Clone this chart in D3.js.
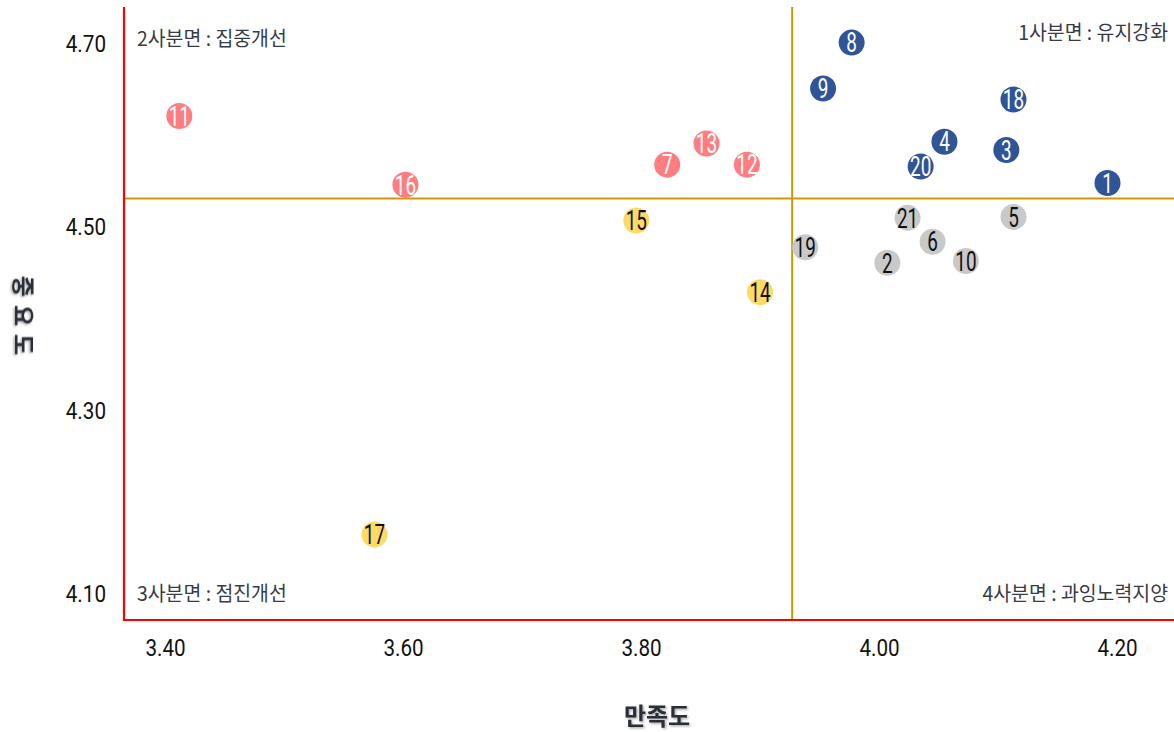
<!DOCTYPE html>
<html>
<head>
<meta charset="utf-8">
<script src="https://cdn.jsdelivr.net/npm/d3@7/dist/d3.min.js"></script>
<style>
  html, body { margin: 0; padding: 0; background: #fff; }
  svg { display: block; }
</style>
</head>
<body>
<div id="chart"></div>
<script>
// ---- data ----
const ids          = [1, 2, 3, 4, 5, 6, 7, 8, 9, 10, 11, 12, 13, 14, 15, 16, 17, 18, 19, 20, 21];
const satisfaction = [4.192, 4.007, 4.107, 4.055, 4.113, 4.045, 3.822, 3.977, 3.953, 4.073, 3.412, 3.889, 3.855, 3.900, 3.796, 3.602, 3.576, 4.113, 3.938, 4.035, 4.024];
const importance   = [4.548, 4.461, 4.584, 4.593, 4.511, 4.484, 4.568, 4.701, 4.651, 4.463, 4.621, 4.568, 4.591, 4.429, 4.507, 4.546, 4.165, 4.639, 4.478, 4.566, 4.510];
const xTicks = [3.40, 3.60, 3.80, 4.00, 4.20];
const yTicks = [4.10, 4.30, 4.50, 4.70];
const meanSatisfaction = 3.927;
const meanImportance = 4.531;
const quadrantNames = ["1사분면 : 유지강화", "2사분면 : 집중개선", "3사분면 : 점진개선", "4사분면 : 과잉노력지양"];
const xTitle = "만족도";
const yTitle = "중요도";

// ---- layout ----
const W = 1174, H = 732;
const plot = { left: 124, right: 1174, top: 7, bottom: 620 };

const x = d3.scaleLinear().domain([3.3655, 4.2479]).range([plot.left, plot.right]);
const y = d3.scaleLinear().domain([4.0717, 4.7398]).range([plot.bottom, plot.top]);

const svg = d3.select("#chart").append("svg").attr("width", W).attr("height", H);

const defs = svg.append("defs");
const f = defs.append("filter").attr("id", "shadow").attr("x", "-20%").attr("y", "-20%").attr("width", "140%").attr("height", "140%");
f.append("feDropShadow").attr("dx", 1.3).attr("dy", 1.3).attr("stdDeviation", 1).attr("flood-color", "#000").attr("flood-opacity", 0.35);

const numFont = "Roboto, 'Liberation Sans', sans-serif";
const krFont = "'Noto Sans CJK KR', 'Noto Sans', sans-serif";

function squeeze(sel, factor) {
  sel.each(function () {
    const len = this.getComputedTextLength();
    d3.select(this).attr("textLength", len * factor).attr("lengthAdjust", "spacingAndGlyphs");
  });
}

// quadrant lines
const gold = "#C99A06";
svg.append("line")
  .attr("x1", x(meanSatisfaction)).attr("x2", x(meanSatisfaction))
  .attr("y1", plot.top).attr("y2", plot.bottom)
  .attr("stroke", gold).attr("stroke-width", 2);
svg.append("line")
  .attr("x1", plot.left).attr("x2", plot.right)
  .attr("y1", y(meanImportance)).attr("y2", y(meanImportance))
  .attr("stroke", gold).attr("stroke-width", 2);

// axes
const xAxis = d3.axisBottom(x).tickValues(xTicks).tickFormat(d3.format(".2f")).tickSize(0).tickPadding(19);
const gx = svg.append("g").attr("transform", `translate(0,${plot.bottom})`).call(xAxis);
gx.select(".domain").remove();
gx.selectAll("text").attr("font-family", numFont).attr("font-size", 24).attr("fill", "#111").call(squeeze, 0.86);

const yAxis = d3.axisLeft(y).tickValues(yTicks).tickFormat(d3.format(".2f")).tickSize(0).tickPadding(18);
const gy = svg.append("g").attr("transform", `translate(${plot.left},0)`).call(yAxis);
gy.select(".domain").remove();
gy.selectAll("text").attr("font-family", numFont).attr("font-size", 24).attr("fill", "#111").call(squeeze, 0.86);

svg.append("line").attr("x1", plot.left).attr("x2", plot.left).attr("y1", plot.top).attr("y2", plot.bottom + 1)
  .attr("stroke", "#FF0000").attr("stroke-width", 2.2);
svg.append("line").attr("x1", plot.left - 1).attr("x2", plot.right).attr("y1", plot.bottom).attr("y2", plot.bottom)
  .attr("stroke", "#FF0000").attr("stroke-width", 2.2);

// quadrant labels
const qColor = "#373b45";
const qSize = 20;
const qLabels = svg.append("g").attr("font-family", krFont).attr("font-size", qSize).attr("fill", qColor);
qLabels.append("text").text(quadrantNames[0]).attr("x", plot.right - 6).attr("y", 40).attr("text-anchor", "end");
qLabels.append("text").text(quadrantNames[1]).attr("x", plot.left + 13).attr("y", 46).attr("text-anchor", "start");
qLabels.append("text").text(quadrantNames[2]).attr("x", plot.left + 13).attr("y", 601).attr("text-anchor", "start");
qLabels.append("text").text(quadrantNames[3]).attr("x", plot.right - 6).attr("y", 601).attr("text-anchor", "end");
qLabels.selectAll("text").call(squeeze, 0.97);

// points
const data = ids.map((id, i) => ({ id, sx: satisfaction[i], iy: importance[i] }));
function quadrant(d) {
  if (d.sx >= meanSatisfaction && d.iy >= meanImportance) return 1;
  if (d.sx < meanSatisfaction && d.iy >= meanImportance) return 2;
  if (d.sx < meanSatisfaction && d.iy < meanImportance) return 3;
  return 4;
}
const fillByQ = { 1: "#2F5597", 2: "#FF7C80", 3: "#FFD966", 4: "#C9C9C9" };
const textByQ = { 1: "#ffffff", 2: "#ffffff", 3: "#111111", 4: "#111111" };

const pts = svg.append("g").selectAll("g").data(data).join("g")
  .attr("transform", d => `translate(${x(d.sx)},${y(d.iy)})`);
pts.append("circle").attr("r", 13).attr("fill", d => fillByQ[quadrant(d)]);
pts.append("text").text(d => d.id)
  .attr("text-anchor", "middle").attr("dy", "0.36em")
  .attr("font-family", numFont).attr("font-size", 27)
  .attr("fill", d => textByQ[quadrant(d)])
  .call(squeeze, 0.7);

// axis titles
svg.append("text").text(xTitle).attr("x", 657).attr("y", 725).attr("text-anchor", "middle")
  .attr("font-family", krFont).attr("font-weight", 700).attr("font-size", 24).attr("fill", "#2b2f38")
  .attr("filter", "url(#shadow)");
svg.append("text").text(yTitle)
  .attr("transform", `translate(15,${(plot.top + plot.bottom) / 2 + 6}) rotate(90)`)
  .attr("text-anchor", "middle").attr("letter-spacing", 8)
  .attr("font-family", krFont).attr("font-weight", 700).attr("font-size", 23).attr("fill", "#2b2f38")
  .attr("filter", "url(#shadow)");
</script>
</body>
</html>
